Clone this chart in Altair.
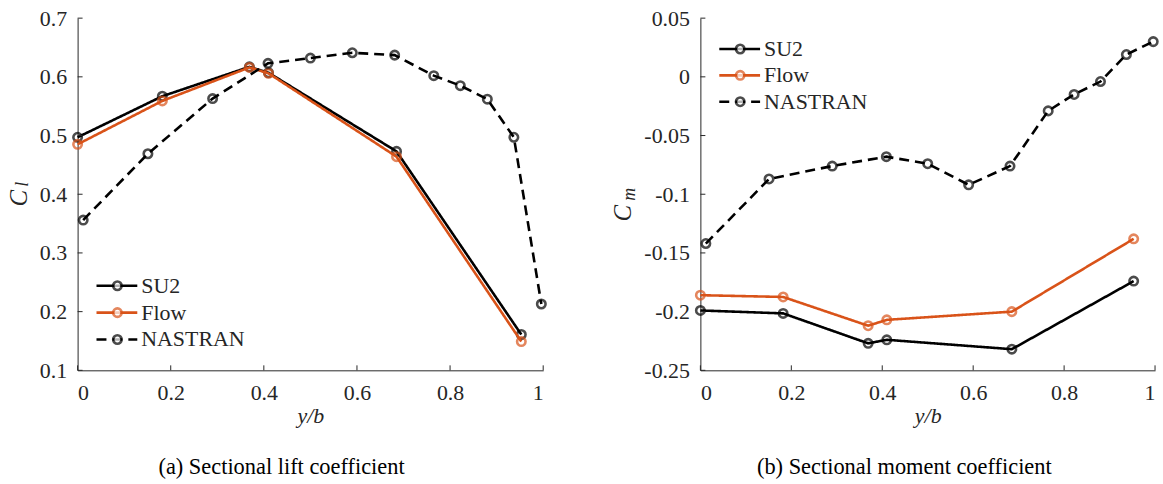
import altair as alt
import pandas as pd

FONT = "Liberation Serif"
AX = "#262626"
BLACK = "#000000"
ORANGE = "#D95319"

series_names = ["SU2", "Flow", "NASTRAN"]

# span stations
cfd_x = [0.0, 0.182, 0.369, 0.41, 0.685, 0.953]
nas_x = [0.012, 0.151, 0.290, 0.409, 0.500, 0.590, 0.681, 0.765, 0.822, 0.880, 0.937, 0.996]

# sectional lift coefficient
su2_cl = [0.497, 0.567, 0.617, 0.607, 0.473, 0.161]
flow_cl = [0.485, 0.559, 0.616, 0.606, 0.464, 0.149]
nas_cl = [0.356, 0.469, 0.563, 0.623, 0.632, 0.641, 0.637, 0.602, 0.585, 0.562, 0.497, 0.213]

# sectional moment coefficient
su2_cm = [-0.199, -0.2015, -0.227, -0.224, -0.232, -0.174]
flow_cm = [-0.186, -0.1875, -0.212, -0.207, -0.200, -0.138]
nas_cm = [-0.142, -0.087, -0.076, -0.068, -0.074, -0.092, -0.076, -0.029, -0.015, -0.004, 0.019, 0.030]

x_ticks = [0, 0.2, 0.4, 0.6, 0.8, 1]
cl_ticks = [0.1, 0.2, 0.3, 0.4, 0.5, 0.6, 0.7]
cm_ticks = [-0.25, -0.2, -0.15, -0.1, -0.05, 0, 0.05]

LABEL_EXPR = "toString(round(datum.value*100)/100)"
LW = 2.6


def panel(su2_y, flow_y, nas_y, y_dom, y_ticks, W, H, sym, sub, sub_dx, sub_dy,
          caption, leg_y):
    xs = alt.Scale(domain=[0, 1], nice=False, zero=False)
    ys = alt.Scale(domain=y_dom, nice=False, zero=False)
    xax = alt.Axis(values=x_ticks, labelExpr=LABEL_EXPR, title="y/b",
                   labelPadding=12, titlePadding=2,
                   labelFont=FONT, titleFont=FONT)
    yax = alt.Axis(values=y_ticks, labelExpr=LABEL_EXPR, title=None,
                   labelPadding=11, labelFont=FONT)
    X = alt.X("x:Q", scale=xs, axis=xax)
    Y = alt.Y("y:Q", scale=ys, axis=yax)

    layers = []
    specs = [
        (series_names[0], cfd_x, su2_y, BLACK, [1, 0]),
        (series_names[1], cfd_x, flow_y, ORANGE, [1, 0]),
        (series_names[2], nas_x, nas_y, BLACK, [10, 6]),
    ]
    # lines
    for name, xv, yv, col, dash in specs:
        df = pd.DataFrame({"x": xv, "y": yv, "series": name})
        base = alt.Chart(df)
        layers.append(base.mark_line(strokeWidth=LW).encode(
            x=X, y=Y, color=alt.value(col), strokeDash=alt.value(dash)))
        layers.append(base.mark_point(shape="circle", filled=False, size=72,
                                      strokeWidth=LW).encode(
            x=X, y=Y, color=alt.value(col)))

    # inward ticks
    ytk = pd.DataFrame({"y": y_ticks})
    layers.append(alt.Chart(ytk).mark_rule(color=AX, strokeWidth=1).encode(
        y=Y, x=alt.value(0), x2=alt.value(5)))
    xtk = pd.DataFrame({"x": x_ticks})
    layers.append(alt.Chart(xtk).mark_rule(color=AX, strokeWidth=1).encode(
        x=X, y=alt.value(H), y2=alt.value(H - 5)))

    # legend
    for i, (name, xv, yv, col, dash) in enumerate(specs):
        ldf = pd.DataFrame({"series": [name]})
        lb = alt.Chart(ldf)
        ly = leg_y[i]
        layers.append(lb.mark_rule(strokeWidth=LW).encode(
            x=alt.value(19), x2=alt.value(60), y=alt.value(ly),
            color=alt.value(col), strokeDash=alt.value(dash)))
        layers.append(lb.mark_point(shape="circle", filled=True, size=72,
                                    strokeWidth=LW).encode(
            x=alt.value(40), y=alt.value(ly), stroke=alt.value(col),
            fill=alt.value("white")))
        layers.append(lb.mark_text(font=FONT, fontSize=22, align="left",
                                   baseline="middle", color=AX).encode(
            x=alt.value(64), y=alt.value(ly), text="series:N"))

    # y-axis title with subscript
    tdf = pd.DataFrame({"t": [sym]})
    layers.append(alt.Chart(tdf).mark_text(font=FONT, fontStyle="italic",
                                           fontSize=25, angle=270,
                                           baseline="middle", align="center",
                                           color=AX).encode(
        x=alt.value(sub_dx[0]), y=alt.value(sub_dy[0]), text="t:N"))
    sdf = pd.DataFrame({"t": [sub]})
    layers.append(alt.Chart(sdf).mark_text(font=FONT, fontStyle="italic",
                                           fontSize=18, angle=270,
                                           baseline="middle", align="center",
                                           color=AX).encode(
        x=alt.value(sub_dx[1]), y=alt.value(sub_dy[1]), text="t:N"))

    # caption
    cdf = pd.DataFrame({"t": [caption]})
    layers.append(alt.Chart(cdf).mark_text(font=FONT, fontSize=22.5,
                                           baseline="middle", align="center",
                                           color=BLACK).encode(
        x=alt.value(205), y=alt.value(451), text="t:N"))

    return alt.layer(*layers).properties(width=W, height=H)


left = panel(su2_cl, flow_cl, nas_cl, [0.1, 0.7], cl_ticks, 468, 354,
             "C", "l", (-59, -55), (181, 167),
             "(a)  Sectional lift coefficient", [269, 296, 323])
right = panel(su2_cm, flow_cm, nas_cm, [-0.25, 0.05], cm_ticks, 457, 354,
              "C", "m", (-78, -71), (196, 177),
              "(b)  Sectional moment coefficient", [31, 57.5, 84])

chart = alt.hconcat(left, right, spacing=60).properties(
    padding={"left": 7, "top": 6, "right": 0, "bottom": 0}
).configure_view(stroke=None).configure_axis(
    grid=False, ticks=False, domainColor=AX, domainWidth=1,
    labelFont=FONT, labelFontSize=22, labelColor=AX,
    titleFont=FONT, titleFontSize=22, titleFontStyle="italic",
    titleFontWeight="normal", titleColor=AX,
).configure_axisY(labelAlign="right").configure_text(font=FONT)

chart.save("out.html", embed_options={"renderer": "svg", "actions": False})
